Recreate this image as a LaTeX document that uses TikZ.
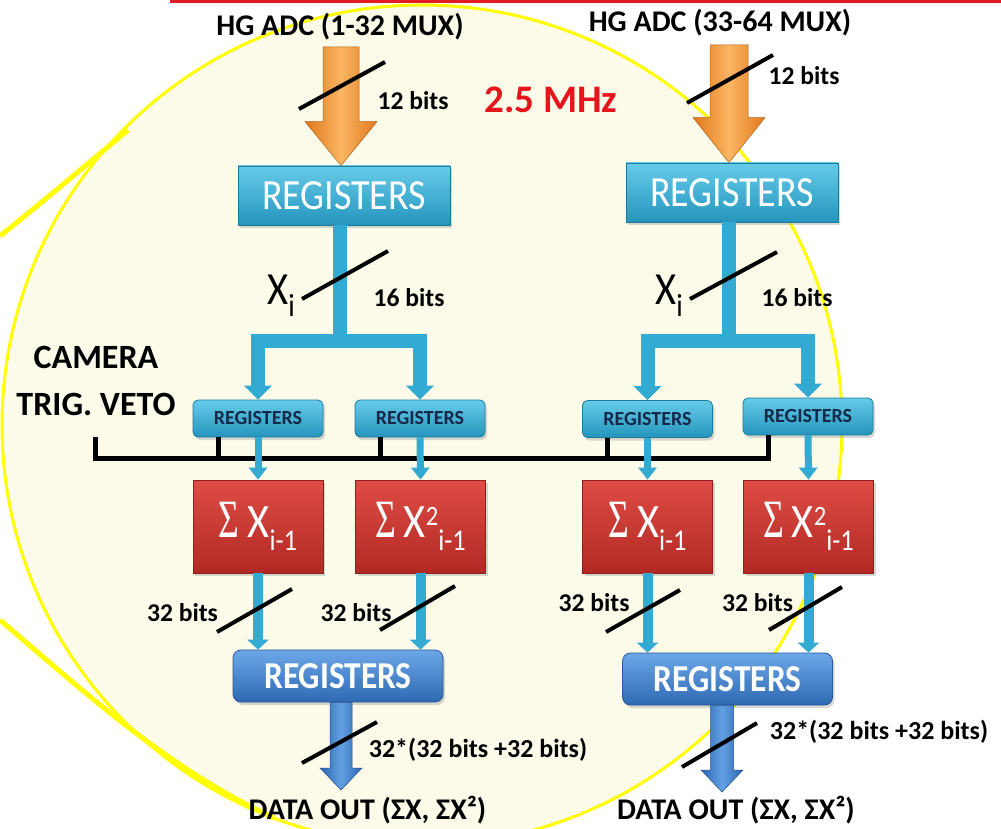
\documentclass[tikz,border=0pt]{standalone}
\usepackage{fontspec}
\setmainfont{Carlito}
\newfontfamily\condf[FakeStretch=0.88]{Carlito}
\newfontfamily\serf{Liberation Serif}
\usetikzlibrary{arrows.meta,calc,shadows}
\newcommand\fsz[1]{\fontsize{#1}{#1}\selectfont}
\newcommand\sig{{\serf\fsz{54}\scalebox{0.66}[1]{Σ}}}
\definecolor{cream}{HTML}{FCFAE9}
\definecolor{ylw}{HTML}{FFFF00}
\definecolor{topred}{HTML}{E31B23}
\definecolor{mhzred}{HTML}{E8141C}
\definecolor{cyanT}{HTML}{66CBE9}
\definecolor{cyanB}{HTML}{2595BD}
\definecolor{cyanD}{HTML}{1C7A9A}
\definecolor{cyanC}{HTML}{33AAD2}
\definecolor{navy}{HTML}{142848}
\definecolor{redT}{HTML}{DE4C45}
\definecolor{redB}{HTML}{B22924}
\definecolor{redD}{HTML}{8E1F1B}
\definecolor{blueT}{HTML}{6CA7E8}
\definecolor{blueB}{HTML}{2F69B3}
\definecolor{blueD}{HTML}{26589A}
\definecolor{orgE}{HTML}{E0781C}
\definecolor{orgM}{HTML}{FBB562}
\definecolor{bluE}{HTML}{2C66B2}
\definecolor{bluM}{HTML}{62A0E2}
\newcommand\blockarrow[6]{%
  \path[#1] let \p1=(#2), \p2=(#3) in
    (\x1-#4pt,\y1) -- (\x1-#4pt,\y2+#6pt) -- (\x1-#5pt,\y2+#6pt) -- (\x1,\y2)
    -- (\x1+#5pt,\y2+#6pt) -- (\x1+#4pt,\y2+#6pt) -- (\x1+#4pt,\y1) -- cycle;}
\begin{document}
\begin{tikzpicture}[x=1pt,y=-1pt,
  lbl/.style={font=\bfseries\fsz{30}, inner sep=0pt, text=black},
  bitlbl/.style={font=\bfseries\fsz{25.6}, inner sep=0pt, text=black},
  xlbl/.style={font=\condf\fsz{46}, inner sep=0pt, text=black},
  shad/.style={drop shadow={shadow xshift=2pt,shadow yshift=-3pt,opacity=0.3}},
  regbig/.style={rectangle, minimum width=212pt, minimum height=59pt, inner sep=0pt,
    top color=cyanT, bottom color=cyanB, draw=cyanD, line width=0.8pt,
    text=white, font=\condf\fsz{43}, shad},
  regsmall/.style={rectangle, rounded corners=5pt, minimum width=130pt, minimum height=37pt,
    inner sep=0pt, top color=cyanT, bottom color=cyanB, draw=cyanD, line width=0.8pt,
    text=navy, font=\bfseries\fsz{20}, shad},
  sumbox/.style={rectangle, minimum width=130pt, minimum height=93pt, inner sep=0pt,
    top color=redT, bottom color=redB, draw=redD, line width=0.8pt,
    text=white, font=\condf\fsz{48}, shad},
  regblue/.style={rectangle, rounded corners=8pt, minimum width=210pt, minimum height=52pt,
    inner sep=0pt, top color=blueT, bottom color=blueB, draw=blueD, line width=0.8pt,
    text=white, font=\condf\bfseries\fsz{38}, shad},
  tree/.style={draw=cyanC, line width=14pt, line join=miter},
  treetip/.style={-{Triangle[width=27pt,length=14pt]}},
  thinarr/.style={draw=cyanC, line width=7pt, -{Triangle[width=18pt,length=12pt]}},
  midarr/.style={draw=cyanC, line width=10pt, -{Triangle[width=21pt,length=10pt]}},
  bus/.style={draw=black, line width=5pt, line join=miter},
  slash/.style={draw=black, line width=4pt},
  orangearrow/.style={left color=orgE, right color=orgE, middle color=orgM, draw=orgE!80!black, line width=0.5pt},
  bluearrow/.style={left color=bluE, right color=bluE, middle color=bluM, draw=bluE!80!black, line width=0.5pt}
]
\useasboundingbox (0,0) rectangle (1001,829);
% background
\begin{scope}
  \clip (0,0) rectangle (1001,829);
  \fill[white] (0,0) rectangle (1001,829);
  \draw[ylw, line width=3pt, fill=cream] (422,425) circle[radius=420];
  \draw[ylw, line width=5pt] (0,236) .. controls (40,204) and (85,166) .. (128,130);
  \draw[ylw, line width=5pt] (0,620) .. controls (90,697) and (170,770) .. (274,818);
  \draw[topred, line width=3pt] (170,1.5) -- (1001,1.5);
\end{scope}

% top labels
\node[lbl] (adc1) at (340,27) {HG ADC (1-32 MUX)};
\node[lbl] (adc2) at (720,23) {HG ADC (33-64 MUX)};
\node[font=\bfseries\fsz{39}, text=mhzred, inner sep=0pt] (mhz) at (551,100) {2.5 MHz};

% top registers
\node[regbig] (regA) at (344,195.5) {REGISTERS};
\node[regbig] (regB) at (732,192.5) {REGISTERS};

% orange input arrows
\coordinate (oa1) at (341,47);
\coordinate (oa2) at (729,45);
\blockarrow{orangearrow}{oa1}{oa1 |- regA.north}{18}{36}{44}
\blockarrow{orangearrow}{oa2}{oa2 |- regB.north}{19}{36}{45}
\draw[slash] (299,109) -- (385,62);
\draw[slash] (687,103) -- (773,55);
\node[bitlbl] (b12a) at (413,101) {12 bits};
\node[bitlbl] (b12b) at (804,76) {12 bits};

% small registers
\node[regsmall] (r1) at (258,418.5) {REGISTERS};
\node[regsmall] (r2) at (420,418.5) {REGISTERS};
\node[regsmall] (r3) at (647.5,419) {REGISTERS};
\node[regsmall] (r4) at (808,416.5) {REGISTERS};

% cyan split trees
\coordinate (jA) at (340,340.5);
\coordinate (jB) at (729,340.5);
\draw[tree] (regA.south -| jA) -- ($(jA)+(0,7)$);
\draw[tree,treetip] (jA) -| (r1.north);
\draw[tree,treetip] (jA) -| (r2.north);
\draw[tree] (regB.south -| jB) -- ($(jB)+(0,7)$);
\draw[tree,treetip] (jB) -| (r3.north);
\draw[tree,treetip] (jB) -| (r4.north);

\draw[slash] (302,299) -- (388,251);
\draw[slash] (690,299) -- (777,252);
\node[xlbl] (xa) at (281,296) {X\raisebox{-12pt}{\fsz{32}i}};
\node[xlbl] (xb) at (669,296) {X\raisebox{-12pt}{\fsz{32}i}};
\node[bitlbl] (b16a) at (409,298) {16 bits};
\node[bitlbl] (b16b) at (797,298) {16 bits};

% camera trigger veto bus
\node[font=\bfseries\fontsize{34}{47}\selectfont, align=center, inner sep=0pt] (veto) at (96,381) {CAMERA\\TRIG. VETO};
\coordinate (vL) at (95,437);
\coordinate (vR) at (768,458);
\draw[bus] (vL) |- (vR) -- (vR |- r4.south);
\coordinate (t1) at ([xshift=-40pt]r1.south);
\coordinate (t2) at ([xshift=-40pt]r2.south);
\coordinate (t3) at ([xshift=-40pt]r3.south);
\draw[bus] (t1) -- (t1 |- vR);
\draw[bus] (t2) -- (t2 |- vR);
\draw[bus] (t3) -- (t3 |- vR);

% sum boxes
\node[sumbox] (s1) at (258,526.5) {\sig\hspace{8pt}X\raisebox{-13pt}{\fsz{30}i-1}};
\node[sumbox] (s2) at (420.5,526.5) {\sig\hspace{8pt}X\raisebox{12pt}{\fsz{28}2}\raisebox{-13pt}{\fsz{30}i-1}};
\node[sumbox] (s3) at (647.5,526.5) {\sig\hspace{8pt}X\raisebox{-13pt}{\fsz{30}i-1}};
\node[sumbox] (s4) at (808.5,526.5) {\sig\hspace{8pt}X\raisebox{12pt}{\fsz{28}2}\raisebox{-13pt}{\fsz{30}i-1}};

\draw[thinarr] (r1.south) -- (s1.north);
\draw[thinarr] (r2.south) -- (s2.north);
\draw[thinarr] (r3.south) -- (s3.north);
\draw[thinarr] (r4.south) -- (s4.north);

% bottom registers
\node[regblue] (regC) at (338,676) {REGISTERS};
\node[regblue] (regD) at (727.5,679) {REGISTERS};

\draw[midarr] (s1.south) -- (s1.south |- regC.north);
\draw[midarr] (s2.south) -- (s2.south |- regC.north);
\draw[midarr] (s3.south) -- (s3.south |- regD.north);
\draw[midarr] (s4.south) -- (s4.south |- regD.north);

\draw[slash] (217,632) -- (292,589);
\draw[slash] (380,630) -- (455,586);
\draw[slash] (606,632) -- (680,590);
\draw[slash] (769,630) -- (842,587);
\node[bitlbl] (b32a) at (182.5,613) {32 bits};
\node[bitlbl] (b32b) at (356,613) {32 bits};
\node[bitlbl] (b32c) at (594,603) {32 bits};
\node[bitlbl] (b32d) at (757.5,603) {32 bits};

% output arrows
\coordinate (bo1) at (341,790);
\coordinate (bo2) at (722,792);
\blockarrow{bluearrow}{bo1 |- regC.south}{bo1}{11}{21}{22}
\blockarrow{bluearrow}{bo2 |- regD.south}{bo2}{11.5}{21}{22}
\draw[slash] (302,763) -- (377,722);
\draw[slash] (682,767) -- (757,723);
\node[font=\bfseries\fsz{26}, inner sep=0pt] (outa) at (478,750) {32*(32 bits +32 bits)};
\node[font=\bfseries\fsz{26}, inner sep=0pt] (outb) at (879,732) {32*(32 bits +32 bits)};
\node[lbl] (da) at (367.5,810) {DATA OUT (ΣX, ΣX²)};
\node[lbl] (db) at (736,810) {DATA OUT (ΣX, ΣX²)};
\end{tikzpicture}
\end{document}
